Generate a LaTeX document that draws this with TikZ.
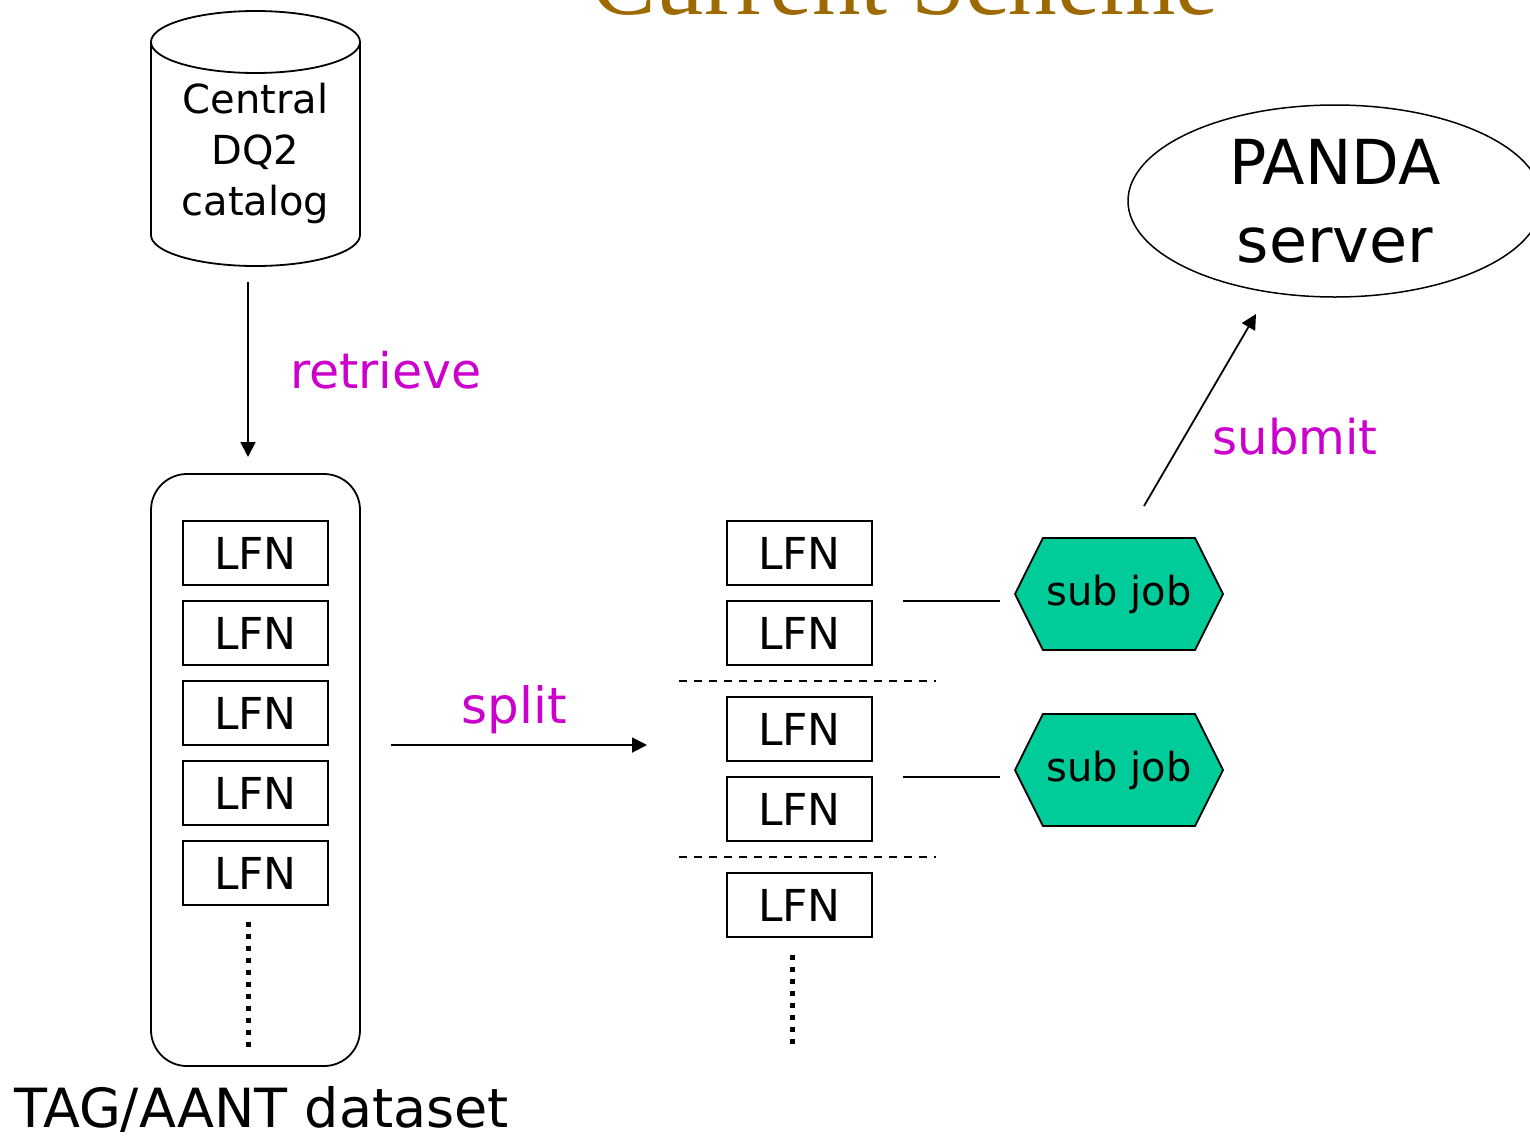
\documentclass[tikz,border=0pt]{standalone}
\usepackage{fontspec}
\setmainfont{DejaVu Sans}
\newfontfamily\titlefont{Liberation Serif}
\usetikzlibrary{shapes.geometric,shapes.symbols,arrows.meta}
\definecolor{labmag}{RGB}{204,0,204}
\definecolor{jobgreen}{RGB}{0,204,153}
\definecolor{titlebrown}{RGB}{156,106,0}
\tikzset{
  lfn/.style={draw, line width=1.8pt, minimum width=145pt, minimum height=64pt, inner sep=0pt,
    font=\fontsize{44}{44}\selectfont},
  job/.style={draw, line width=1.8pt, fill=jobgreen, shape=signal, signal to=east and west,
    signal pointer angle=127, minimum width=208pt, minimum height=112pt, inner sep=0pt,
    font=\fontsize{40}{40}\selectfont},
  lab/.style={text=labmag, inner sep=0pt},
  arr/.style={line width=1.8pt, -{Triangle[length=15pt,width=15pt]}},
  plain/.style={line width=1.5pt},
  sep/.style={line width=1.5pt, dash pattern=on 8pt off 7pt},
  dots/.style={line width=5pt, dash pattern=on 5pt off 7pt}
}
\begin{document}
\begin{tikzpicture}[x=1pt,y=-1pt]
\useasboundingbox (0,0) rectangle (1530,1141);
\clip (0,0) rectangle (1530,1141);
% title (cut at top, as in the reference)
\node[anchor=base, inner sep=0pt, text=titlebrown, font=\titlefont\fontsize{97}{97}\selectfont] (title) at (905,14) {Current Scheme};
% cylinder
\draw[line width=1.8pt] (151,42) -- (151,235) arc[start angle=180, end angle=360, x radius=104.5pt, y radius=31pt] -- (360,42);
\draw[line width=1.8pt] (255.5,42) ellipse [x radius=104.5pt, y radius=31pt];
\node[align=center, inner sep=0pt, font=\fontsize{40}{51}\selectfont] (cat) at (255.5,153) {Central\\DQ2\\catalog};
\coordinate (rA) at (248,282);
\coordinate (rB) at (248,457);
\draw[arr] (rA) -- (rB);
\node[lab, font=\fontsize{49}{49}\selectfont] (retr) at (386,370) {retrieve};
% dataset
\node[draw, line width=1.8pt, rounded corners=36pt, minimum width=209pt, minimum height=592pt] (ds) at (255.5,770) {};
\node[lfn] (a1) at (255.5,553) {LFN};
\node[lfn] (a2) at (255.5,633) {LFN};
\node[lfn] (a3) at (255.5,713) {LFN};
\node[lfn] (a4) at (255.5,793) {LFN};
\node[lfn] (a5) at (255.5,873) {LFN};
\coordinate (d1) at (248,922);
\coordinate (d2) at (248,1048);
\draw[dots] (d1) -- (d2);
\node[anchor=base west, inner sep=0pt, text depth=0pt, font=\fontsize{54}{54}\selectfont] (dsname) at (14,1127) {TAG/AANT dataset};
% split
\coordinate (sA) at (391,745);
\coordinate (sB) at (647,745);
\draw[arr] (sA) -- (sB);
\node[lab, font=\fontsize{50}{50}\selectfont] (split) at (514,710) {split};
% right LFNs
\node[lfn] (b1) at (799.5,553) {LFN};
\node[lfn] (b2) at (799.5,633) {LFN};
\node[lfn] (b3) at (799.5,729) {LFN};
\node[lfn] (b4) at (799.5,809) {LFN};
\node[lfn] (b5) at (799.5,905) {LFN};
\coordinate (s1a) at (679,681);
\coordinate (s1b) at (936,681);
\coordinate (s2a) at (679,857);
\coordinate (s2b) at (936,857);
\draw[sep] (s1a) -- (s1b);
\draw[sep] (s2a) -- (s2b);
\coordinate (e1) at (792,955);
\coordinate (e2) at (792,1044);
\draw[dots] (e1) -- (e2);
% sub jobs
\node[job] (j1) at (1119,594) {sub job};
\node[job] (j2) at (1119,770) {sub job};
\coordinate (g1a) at (903,601);
\coordinate (g1b) at (1000,601);
\coordinate (g2a) at (903,777);
\coordinate (g2b) at (1000,777);
\draw[plain] (g1a) -- (g1b);
\draw[plain] (g2a) -- (g2b);
% panda
\node[draw, line width=1.5pt, ellipse, minimum width=414pt, minimum height=192pt, inner sep=0pt,
  align=center, font=\fontsize{62}{78}\selectfont] (panda) at (1335,201) {PANDA\\server};
\coordinate (uA) at (1144,506);
\coordinate (uB) at (1256,314);
\draw[arr] (uA) -- (uB);
\node[lab, font=\fontsize{48}{48}\selectfont] (submit) at (1295,437) {submit};
\end{tikzpicture}
\end{document}
